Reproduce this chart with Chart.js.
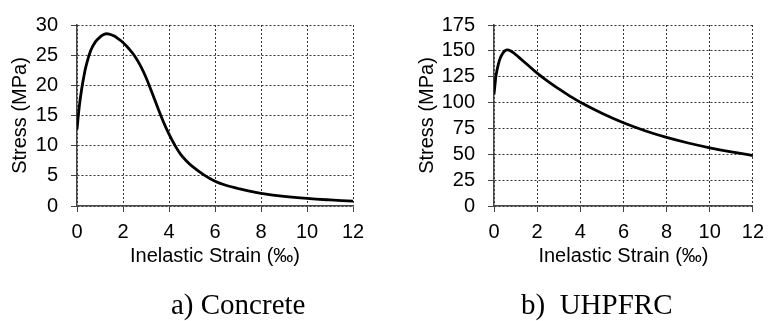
<!DOCTYPE html>
<html>
<head>
<meta charset="utf-8">
<script src="https://cdn.jsdelivr.net/npm/chart.js@4"></script>
<style>
  body{margin:0;background:#fff;width:772px;height:321px;position:relative;overflow:hidden}
  .box{position:absolute;top:0;width:386px;height:321px}
  .cap{position:absolute;top:290px;font-family:"Liberation Serif","Times New Roman",serif;font-size:29px;line-height:29px;white-space:pre;color:#000}
</style>
</head>
<body>
<div class="box" style="left:0"><canvas id="c1" width="386" height="321"></canvas></div>
<div class="box" style="left:386px"><canvas id="c2" width="386" height="321"></canvas></div>
<div class="cap" style="left:171px">a) Concrete</div>
<div class="cap" style="left:521px">b)  UHPFRC</div>
<script>
// a) Concrete
const concreteStrain = [0,0.1,0.2,0.3,0.4,0.6,0.8,1.0,1.2,1.4,1.6,1.8,2.0,2.25,2.5,2.75,3.0,3.25,3.5,3.75,4.0,4.25,4.5,4.75,5.0,5.5,6,6.5,7,7.5,8,9,10,11,12];
const concreteStress = [12.7,16.5,19.3,21.5,23.3,25.8,27.2,28.0,28.5,28.5,28.2,27.7,27.1,26.1,24.9,23.3,21.3,18.9,16.4,14.0,11.9,10.1,8.6,7.5,6.6,5.2,4.1,3.4,2.9,2.45,2.1,1.6,1.25,1.0,0.8];

// b) UHPFRC
const uhpStrain = [0,0.05,0.1,0.2,0.3,0.4,0.5,0.6,0.7,0.8,1.0,1.25,1.5,2,2.5,3,3.5,4,5,6,7,8,9,10,11,12];
const uhpStress = [108,118,127,137,143.5,147.5,150,151,150.6,149.6,146.5,142,137.5,128.5,120.5,113.3,106.5,100.3,89.7,80.5,72.8,66.3,60.9,56.3,52.3,48.8];

const xTitle = "Inelastic Strain (‰)";
const yTitle = "Stress (MPa)";
const FONT = "'Liberation Sans', Arial, sans-serif";

function toPoints(xs, ys){
  return xs.map((x, i) => ({x, y: ys[i]}));
}

function makeChart(id, xs, ys, yMax, yStep, yWidth, padRight, yTitlePad){
  const ctx = document.getElementById(id).getContext("2d");
  return new Chart(ctx, {
    type: "scatter",
    data: {
      datasets: [{
        data: toPoints(xs, ys),
        showLine: true,
        borderColor: "#000",
        borderWidth: 2.8,
        pointRadius: 0,
        tension: 0.4,
        fill: false
      }]
    },
    options: {
      responsive: false,
      animation: false,
      devicePixelRatio: 1,
      layout: { padding: { top: 19, right: padRight, bottom: 0, left: 0 } },
      plugins: { legend: { display: false }, tooltip: { enabled: false } },
      scales: {
        x: {
          type: "linear", min: 0, max: 12,
          afterFit: s => { s.height = 115; },
          ticks: { stepSize: 2, autoSkip: false, color: "#000", padding: 8, maxRotation: 0, font: { family: FONT, size: 20 } },
          grid: { color: "#333", lineWidth: 1, tickLength: 6, tickColor: "#444", tickBorderDash: [] },
          border: { color: "#444", width: 1.5, dash: [2, 2] },
          title: { display: true, text: xTitle, color: "#000", padding: { top: 0, bottom: 53 }, font: { family: FONT, size: 20 } }
        },
        y: {
          min: 0, max: yMax,
          afterFit: s => { s.width = yWidth; },
          ticks: { stepSize: yStep, autoSkip: false, color: "#000", padding: 13, font: { family: FONT, size: 20 } },
          grid: { color: "#333", lineWidth: 1, tickLength: 6, tickColor: "#444", tickBorderDash: [] },
          border: { color: "#444", width: 1.5, dash: [2, 2] },
          title: { display: true, text: yTitle, color: "#000", padding: { top: yTitlePad, bottom: 0 }, font: { family: FONT, size: 20 } }
        }
      }
    }
  });
}

makeChart("c1", concreteStrain, concreteStress, 30, 5, 77, 33, 8);
makeChart("c2", uhpStrain, uhpStress, 175, 25, 108, 13, 29);
</script>
</body>
</html>
